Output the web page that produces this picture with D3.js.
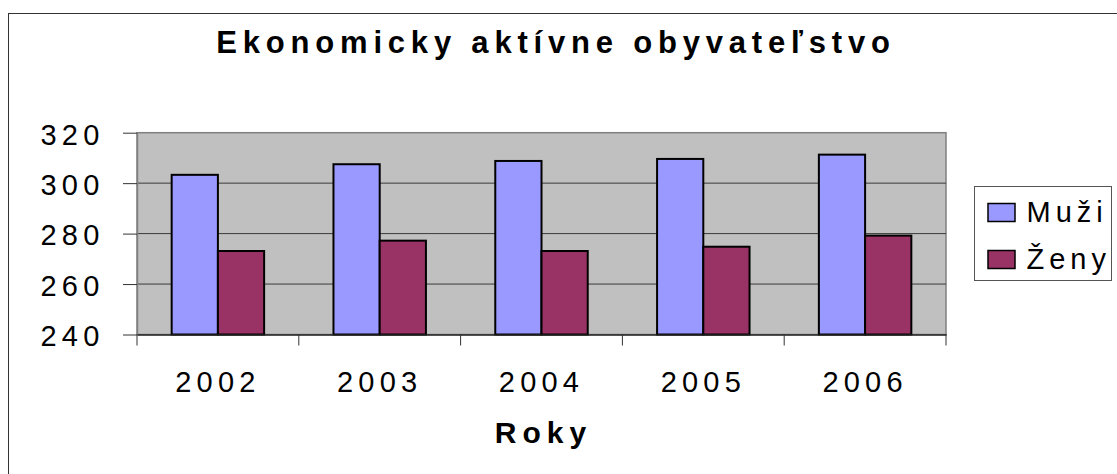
<!DOCTYPE html>
<html>
<head>
<meta charset="utf-8">
<script src="https://cdn.jsdelivr.net/npm/d3@7.9.0/dist/d3.min.js"></script>
<style>
  body { margin: 0; background: #fff; }
  svg { display: block; font-family: "Liberation Sans", Arial, sans-serif; }
</style>
</head>
<body>
<div id="chart"></div>
<script>
const years = ["2002", "2003", "2004", "2005", "2006"];
const seriesNames = ["Muži", "Ženy"];
const muzi = [303.3, 307.5, 308.8, 309.6, 311.3];
const zeny = [273.1, 277.2, 273.1, 274.8, 279.2];
const yTicks = [240, 260, 280, 300, 320];
const colors = ["#9999ff", "#993366"];

const width = 1117;
const height = 474;
const plot = { left: 137, right: 946, top: 132.7, bottom: 334.5 };

const svg = d3.select("#chart")
    .append("svg")
    .attr("width", width)
    .attr("height", height);

// chart area border (right/bottom fall outside the picture)
svg.append("rect")
    .attr("x", 8.5)
    .attr("y", 13.5)
    .attr("width", 1130)
    .attr("height", 480)
    .attr("fill", "#fff")
    .attr("stroke", "#333")
    .attr("stroke-width", 1);

const x0 = d3.scaleBand()
    .domain(years)
    .range([plot.left, plot.right])
    .padding(0);

const x1 = d3.scaleBand()
    .domain(seriesNames)
    .range([0, x0.bandwidth()])
    .paddingInner(0)
    .paddingOuter(0.75);

const y = d3.scaleLinear()
    .domain([240, 320])
    .range([plot.bottom, plot.top]);

// plot area
svg.append("rect")
    .attr("x", plot.left)
    .attr("y", plot.top)
    .attr("width", plot.right - plot.left)
    .attr("height", plot.bottom - plot.top)
    .attr("fill", "#c0c0c0")
    .attr("stroke", "#808080")
    .attr("stroke-width", 1.5);

// gridlines
svg.append("g")
    .selectAll("line")
    .data(yTicks.filter(d => d > 240 && d < 320))
    .join("line")
    .attr("x1", plot.left)
    .attr("x2", plot.right)
    .attr("y1", d => y(d))
    .attr("y2", d => y(d))
    .attr("stroke", "#3a3a3a")
    .attr("stroke-width", 1);

// bars
const rows = years.map((yr, i) => ({ year: yr, values: [muzi[i], zeny[i]] }));

svg.append("g")
    .selectAll("g")
    .data(rows)
    .join("g")
    .attr("transform", d => `translate(${x0(d.year)},0)`)
    .selectAll("rect")
    .data(d => d.values.map((v, j) => ({ key: seriesNames[j], value: v, color: colors[j] })))
    .join("rect")
    .attr("x", d => x1(d.key))
    .attr("y", d => y(d.value))
    .attr("width", x1.bandwidth())
    .attr("height", d => y(240) - y(d.value))
    .attr("fill", d => d.color)
    .attr("stroke", "#000")
    .attr("stroke-width", 2);

// y axis
const yAxis = svg.append("g")
    .attr("transform", `translate(${plot.left},0)`)
    .call(d3.axisLeft(y).tickValues(yTicks).tickSize(14).tickPadding(18.5).tickSizeOuter(0));
yAxis.select(".domain").attr("stroke", "#808080").attr("stroke-width", 1.5);
yAxis.selectAll(".tick line").attr("stroke", "#333");
yAxis.selectAll(".tick text")
    .attr("dy", "0.39em")
    .attr("fill", "#000")
    .style("font-size", "29px")
    .style("letter-spacing", "5.2px");

// x axis: labels centred, ticks on category boundaries
const xAxis = svg.append("g")
    .attr("transform", `translate(0,${plot.bottom})`)
    .call(d3.axisBottom(x0).tickSize(0).tickPadding(36.6).tickSizeOuter(0));
xAxis.select(".domain").attr("stroke", "#222").attr("stroke-width", 1.5);
xAxis.selectAll(".tick text")
    .attr("fill", "#000")
    .style("font-size", "29px")
    .style("letter-spacing", "5.2px");

xAxis.append("g")
    .selectAll("line")
    .data(years.map(d => x0(d)).concat([x0.range()[1]]))
    .join("line")
    .attr("x1", d => d)
    .attr("x2", d => d)
    .attr("y1", 0)
    .attr("y2", 11)
    .attr("stroke", "#333")
    .attr("stroke-width", 1);

// title
svg.append("text")
    .attr("x", 556)
    .attr("y", 53.3)
    .attr("text-anchor", "middle")
    .style("font-size", "31px")
    .style("font-weight", "bold")
    .style("letter-spacing", "5.8px")
    .text("Ekonomicky aktívne obyvateľstvo");

// axis title
svg.append("text")
    .attr("x", (plot.left + plot.right) / 2 + 2)
    .attr("y", 443.3)
    .attr("text-anchor", "middle")
    .style("font-size", "30px")
    .style("font-weight", "bold")
    .style("letter-spacing", "6px")
    .text("Roky");

// legend
const legend = svg.append("g");
legend.append("rect")
    .attr("x", 974.5)
    .attr("y", 186.5)
    .attr("width", 137)
    .attr("height", 94)
    .attr("fill", "#fff")
    .attr("stroke", "#555")
    .attr("stroke-width", 1);

const items = legend.selectAll("g.item")
    .data(seriesNames)
    .join("g")
    .attr("class", "item")
    .attr("transform", (d, i) => `translate(988,${203.5 + i * 47})`);

items.append("rect")
    .attr("width", 27)
    .attr("height", 18)
    .attr("fill", (d, i) => colors[i])
    .attr("stroke", "#000")
    .attr("stroke-width", 1.5);

items.append("text")
    .attr("x", 38.5)
    .attr("y", 18.2)
    .style("font-size", "29px")
    .style("letter-spacing", "5px")
    .text(d => d);
</script>
</body>
</html>
